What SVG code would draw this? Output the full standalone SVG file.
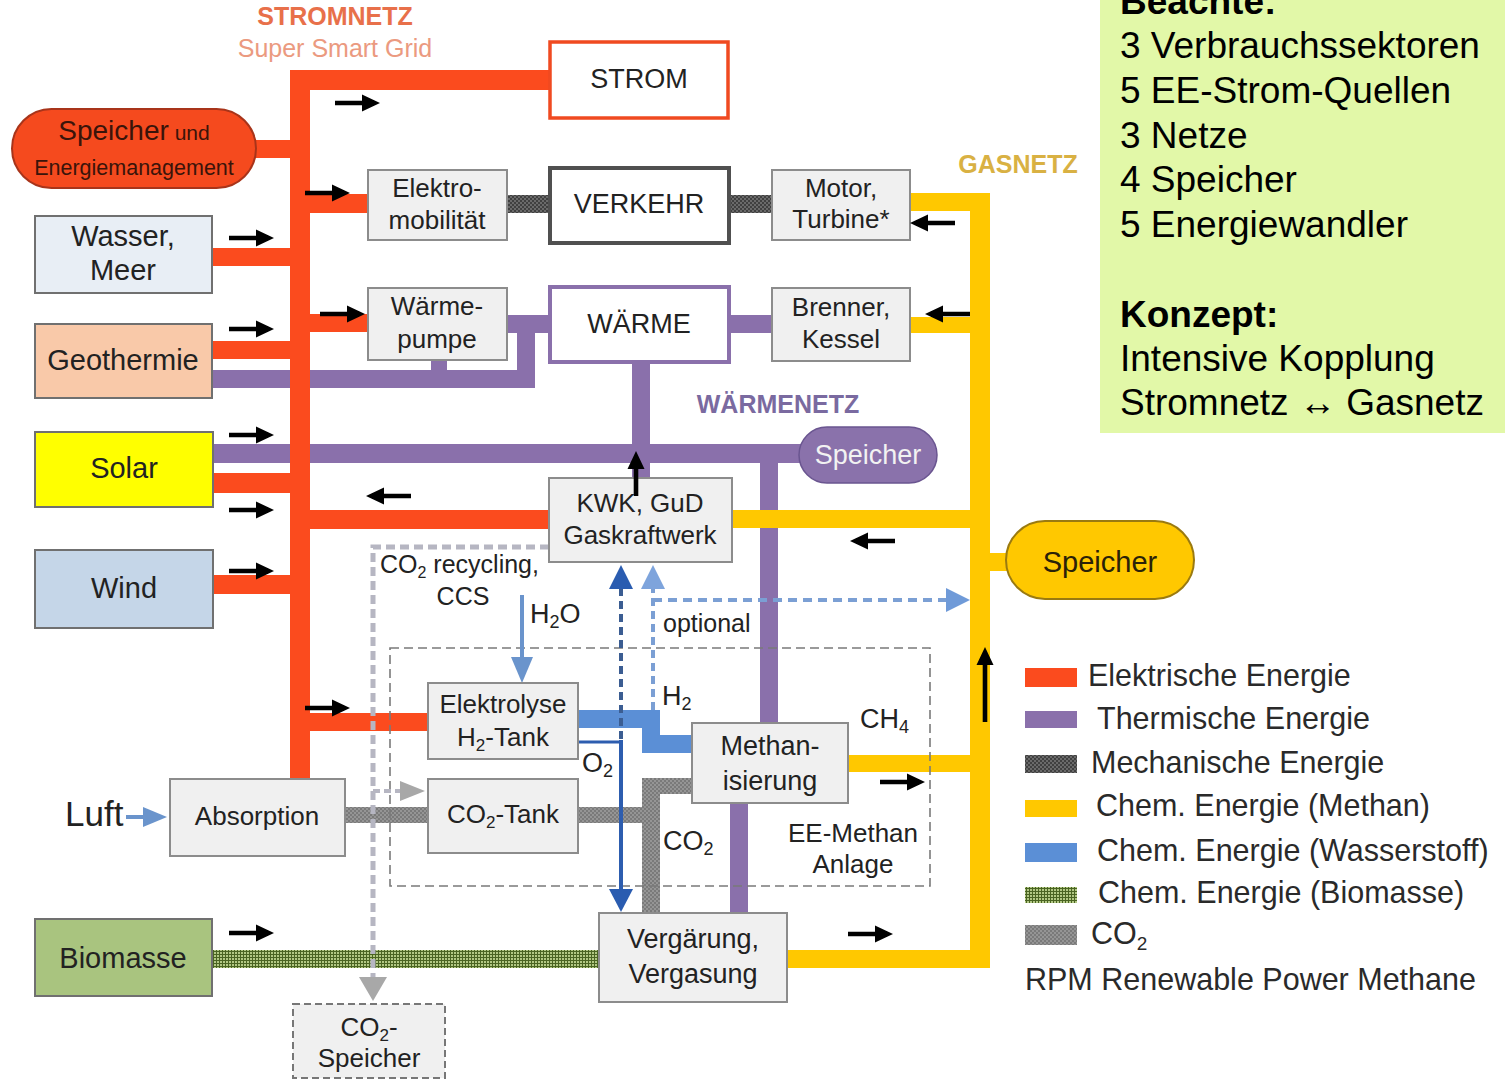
<svg xmlns="http://www.w3.org/2000/svg" width="1505" height="1081" viewBox="0 0 1505 1081">
<defs>
<pattern id="pMech" width="4" height="4" patternUnits="userSpaceOnUse"><rect width="4" height="4" fill="#6a6a6a"/><rect width="2" height="2" fill="#404040"/><rect x="2" y="2" width="2" height="2" fill="#404040"/></pattern>
<pattern id="pCO2" width="4" height="4" patternUnits="userSpaceOnUse"><rect width="4" height="4" fill="#959595"/><rect width="2" height="2" fill="#7a7a7a"/><rect x="2" y="2" width="2" height="2" fill="#7a7a7a"/></pattern>
<pattern id="pBio" width="3" height="3" patternUnits="userSpaceOnUse"><rect width="3" height="3" fill="#b2c884"/><rect width="3" height="1" fill="#4a6422"/><rect width="1" height="3" fill="#4a6422"/></pattern>
<path id="ar" d="M0,-2.3 H27 V-8.5 L45,0 L27,8.5 V2.3 H0 Z" fill="#000"/>
<path id="arLong" d="M0,-2.3 H57 V-8.5 L75,0 L57,8.5 V2.3 H0 Z" fill="#000"/>
</defs>
<style>
text{font-family:"Liberation Sans",Arial,sans-serif;fill:#222;}
.box{fill:#f0f0f0;stroke:#8c8c8c;stroke-width:2;}
.src{stroke:#707070;stroke-width:2;}
.c{text-anchor:middle;}
.f26{font-size:26px;}
.f27{font-size:27px;}
.f29{font-size:29px;}
.f25{font-size:25px;}
.lg{font-size:30.5px;fill:#2a2a2a;}
.nt{font-size:37px;fill:#000;}
.red{fill:#fb4b1e;}
.pur{fill:#8a70ab;}
.yel{fill:#ffc800;}
.h2{fill:#5b8fd6;}
.mech{fill:url(#pMech);}
.co2{fill:url(#pCO2);}
.bio{fill:url(#pBio);}
</style>
<rect width="1505" height="1081" fill="#fff"/>

<!-- Notes box -->
<g id="notes">
<rect x="1100" y="0" width="405" height="433" fill="#e2f8a8"/>
<text class="nt" x="1120" y="14" font-weight="bold">Beachte:</text>
<text class="nt" x="1120" y="58">3 Verbrauchssektoren</text>
<text class="nt" x="1120" y="103">5 EE-Strom-Quellen</text>
<text class="nt" x="1120" y="148">3 Netze</text>
<text class="nt" x="1120" y="192">4 Speicher</text>
<text class="nt" x="1120" y="237">5 Energiewandler</text>
<text class="nt" x="1120" y="327" font-weight="bold">Konzept:</text>
<text class="nt" x="1120" y="371">Intensive Kopplung</text>
<text class="nt" x="1120" y="415">Stromnetz ↔ Gasnetz</text>
</g>

<!-- Network labels -->
<g id="labels">
<text x="335" y="25" class="c" font-size="25" font-weight="bold" style="fill:#e8704a">STROMNETZ</text>
<text x="335" y="57" class="c" font-size="25" style="fill:#eb9a80">Super Smart Grid</text>
<text x="1018" y="173" class="c" font-size="25" font-weight="bold" style="fill:#d9b143">GASNETZ</text>
<text x="778" y="413" class="c" font-size="25" font-weight="bold" style="fill:#7a6aa0">WÄRMENETZ</text>
</g>

<g id="connectors">
<!-- purple (heat) -->
<rect class="pur" x="212" y="370" width="323" height="18"/>
<rect class="pur" x="517" y="315" width="18" height="73"/>
<rect class="pur" x="507" y="315" width="43" height="18"/>
<rect class="pur" x="431" y="360" width="16" height="12"/>
<rect class="pur" x="729" y="315" width="43" height="18"/>
<rect class="pur" x="632" y="363" width="18" height="115"/>
<rect class="pur" x="213" y="444" width="590" height="19"/>
<rect class="pur" x="760" y="463" width="18" height="260"/>
<rect class="pur" x="730" y="803" width="18" height="110"/>
<!-- red (electric) -->
<rect class="red" x="290" y="70" width="20" height="708"/>
<rect class="red" x="290" y="70" width="260" height="20"/>
<rect class="red" x="254" y="140" width="36" height="18"/>
<rect class="red" x="212" y="248" width="78" height="18"/>
<rect class="red" x="310" y="194" width="58" height="19"/>
<rect class="red" x="212" y="341" width="78" height="18"/>
<rect class="red" x="310" y="314" width="58" height="18"/>
<rect class="red" x="213" y="473" width="77" height="20"/>
<rect class="red" x="310" y="510" width="239" height="19"/>
<rect class="red" x="213" y="575" width="77" height="19"/>
<rect class="red" x="310" y="713" width="118" height="18"/>
<!-- mechanical -->
<rect class="mech" x="507" y="195" width="43" height="18"/>
<rect class="mech" x="729" y="195" width="43" height="18"/>
<!-- yellow (methane) -->
<rect class="yel" x="970" y="193" width="20" height="775"/>
<rect class="yel" x="910" y="193" width="80" height="18"/>
<rect class="yel" x="910" y="317" width="60" height="16"/>
<rect class="yel" x="732" y="510" width="238" height="18"/>
<rect class="yel" x="990" y="553" width="18" height="18"/>
<rect class="yel" x="848" y="755" width="122" height="17"/>
<rect class="yel" x="787" y="950" width="203" height="18"/>
<!-- hydrogen -->
<rect class="h2" x="579" y="710" width="81" height="18"/>
<rect class="h2" x="642" y="710" width="18" height="43"/>
<rect class="h2" x="642" y="735" width="50" height="18"/>
<!-- CO2 -->
<rect class="co2" x="345" y="807" width="83" height="16"/>
<rect class="co2" x="579" y="807" width="64" height="16"/>
<rect class="co2" x="642" y="778" width="18" height="135"/>
<rect class="co2" x="642" y="778" width="50" height="16"/>
<!-- biomass -->
<rect class="bio" x="212" y="950" width="388" height="18"/>

<!-- EE-Methan Anlage dashed frame -->
<rect x="390" y="648" width="540" height="238" fill="none" stroke="#7a7a7a" stroke-width="1.6" stroke-dasharray="9 5"/>
<!-- CO2 recycling dashed -->
<path d="M549,547 H373 V980" fill="none" stroke="#b6b6c2" stroke-width="5" stroke-dasharray="9 5"/>
<path d="M373,791 H402" fill="none" stroke="#b6b6c2" stroke-width="4" stroke-dasharray="7 4"/>
<polygon points="400,781 425,791 400,801" fill="#a8a8a8"/>
<polygon points="359,977 387,977 373,1001" fill="#a8a8a8"/>

<!-- H2O arrow -->
<line x1="522" y1="595" x2="522" y2="660" stroke="#6a94cc" stroke-width="4"/>
<polygon points="511,657 533,657 522,683" fill="#6a94cc"/>
<!-- O2 line -->
<line x1="579" y1="742" x2="622" y2="742" stroke="#2d5daf" stroke-width="3"/>
<!-- dark blue double arrow -->
<line x1="621" y1="588" x2="621" y2="742" stroke="#3b5d92" stroke-width="4" stroke-dasharray="8 5"/>
<line x1="621" y1="740" x2="621" y2="892" stroke="#2d5daf" stroke-width="4"/>
<polygon points="609,589 633,589 621,565" fill="#2a5cb0"/>
<polygon points="609,889 633,889 621,912" fill="#2a5cb0"/>
<!-- light blue dashed optional -->
<line x1="653" y1="710" x2="653" y2="588" stroke="#7b9fd4" stroke-width="4" stroke-dasharray="8 5"/>
<polygon points="641,589 665,589 653,565" fill="#7ea4dc"/>
<line x1="653" y1="600" x2="948" y2="600" stroke="#7b9fd4" stroke-width="4" stroke-dasharray="9 6"/>
<polygon points="946,588 970,600 946,612" fill="#6f9ad8"/>
<!-- Luft arrow -->
<line x1="126" y1="817" x2="146" y2="817" stroke="#6a94cc" stroke-width="4"/>
<polygon points="143,807 167,817 143,827" fill="#6a94cc"/>
</g>

<!-- Nodes -->
<g id="strom"><rect x="550" y="42" width="178" height="76" fill="#fff" stroke="#f04a20" stroke-width="3.5"/><text class="c f27" x="639" y="88">STROM</text></g>
<g id="speicher-em"><rect x="12" y="109" width="244" height="79" rx="39.5" fill="#f54a1e" stroke="#a8341a" stroke-width="2"/><text class="c" x="134" y="140" style="fill:#3a140a"><tspan font-size="28">Speicher</tspan><tspan font-size="21"> und</tspan></text><text class="c" x="134" y="175" font-size="21.5" style="fill:#3a140a">Energiemanagement</text></g>
<g id="wasser"><rect class="src" x="35" y="216" width="177" height="77" fill="#e8eef5"/><text class="c f29" x="123" y="246">Wasser,</text><text class="c f29" x="123" y="280">Meer</text></g>
<g id="geothermie"><rect class="src" x="35" y="324" width="177" height="74" fill="#f9c9a9"/><text class="c f29" x="123" y="370">Geothermie</text></g>
<g id="solar"><rect class="src" x="35" y="432" width="178" height="75" fill="#ffff00"/><text class="c f29" x="124" y="478">Solar</text></g>
<g id="wind"><rect class="src" x="35" y="550" width="178" height="78" fill="#c5d6e8"/><text class="c f29" x="124" y="598">Wind</text></g>
<g id="biomasse"><rect class="src" x="35" y="919" width="177" height="77" fill="#a9c47f"/><text class="c f29" x="123" y="968">Biomasse</text></g>

<g id="elektromobilitaet"><rect class="box" x="368" y="170" width="139" height="70"/><text class="c f26" x="437" y="197">Elektro-</text><text class="c f26" x="437" y="229">mobilität</text></g>
<g id="verkehr"><rect x="550" y="168" width="179" height="75" fill="#fff" stroke="#505050" stroke-width="4"/><text class="c f27" x="639" y="213">VERKEHR</text></g>
<g id="motor"><rect class="box" x="772" y="170" width="138" height="70"/><text class="c f26" x="841" y="197">Motor,</text><text class="c f26" x="841" y="228">Turbine*</text></g>
<g id="waermepumpe"><rect class="box" x="368" y="288" width="139" height="72"/><text class="c f26" x="437" y="315">Wärme-</text><text class="c f26" x="437" y="348">pumpe</text></g>
<g id="waerme"><rect x="550" y="287" width="179" height="75" fill="#fff" stroke="#8a70ab" stroke-width="4"/><text class="c f27" x="639" y="333">WÄRME</text></g>
<g id="brenner"><rect class="box" x="772" y="288" width="138" height="73"/><text class="c f26" x="841" y="316">Brenner,</text><text class="c f26" x="841" y="348">Kessel</text></g>
<g id="speicher-waerme"><rect x="799" y="427" width="138" height="56" rx="28" fill="#8a72ab" stroke="#6a5590" stroke-width="1.5"/><text class="c f27" x="868" y="464" style="fill:#f2f2f2">Speicher</text></g>
<g id="kwk"><rect class="box" x="549" y="478" width="183" height="84"/><text class="c f26" x="640" y="512">KWK, GuD</text><text class="c f26" x="640" y="544">Gaskraftwerk</text></g>
<g id="speicher-gas"><rect x="1006" y="521" width="188" height="78" rx="39" fill="#ffc800" stroke="#9a7a10" stroke-width="2"/><text class="c f29" x="1100" y="572" style="fill:#2a2208">Speicher</text></g>
<g id="elektrolyse"><rect class="box" x="428" y="683" width="150" height="76"/><text class="c f26" x="503" y="713">Elektrolyse</text><text class="c f26" x="503" y="746">H<tspan font-size="17" dy="5">2</tspan><tspan dy="-5">-Tank</tspan></text></g>
<g id="co2tank"><rect class="box" x="428" y="779" width="150" height="74"/><text class="c f26" x="503" y="823">CO<tspan font-size="17" dy="5">2</tspan><tspan dy="-5">-Tank</tspan></text></g>
<g id="absorption"><rect class="box" x="170" y="779" width="175" height="77"/><text class="c f26" x="257" y="825">Absorption</text></g>
<g id="methanisierung"><rect class="box" x="692" y="723" width="156" height="80"/><text class="c f27" x="770" y="755">Methan-</text><text class="c f27" x="770" y="790">isierung</text></g>
<g id="vergaerung"><rect class="box" x="599" y="913" width="188" height="89"/><text class="c f27" x="693" y="948">Vergärung,</text><text class="c f27" x="693" y="983">Vergasung</text></g>
<g id="co2speicher"><rect x="293" y="1004" width="152" height="74" fill="#f0f0f0" stroke="#777" stroke-width="2" stroke-dasharray="7 4"/><text class="c f26" x="369" y="1036">CO<tspan font-size="17" dy="5">2</tspan><tspan dy="-5">-</tspan></text><text class="c f26" x="369" y="1067">Speicher</text></g>

<!-- free labels -->
<g id="flow-labels">
<text x="65" y="826" font-size="35">Luft</text>
<text x="380" y="573" class="f25">CO<tspan font-size="16" dy="5">2</tspan><tspan dy="-5"> recycling,</tspan></text>
<text x="463" y="605" class="c f25">CCS</text>
<text x="530" y="623" class="f27">H<tspan font-size="18" dy="5">2</tspan><tspan dy="-5">O</tspan></text>
<text x="663" y="632" class="f25">optional</text>
<text x="662" y="705" class="f27">H<tspan font-size="18" dy="5">2</tspan></text>
<text x="860" y="728" class="f27">CH<tspan font-size="18" dy="5">4</tspan></text>
<text x="582" y="772" class="f27">O<tspan font-size="18" dy="5">2</tspan></text>
<text x="663" y="850" class="f27">CO<tspan font-size="18" dy="5">2</tspan></text>
<text x="853" y="842" class="c f26">EE-Methan</text>
<text x="853" y="873" class="c f26">Anlage</text>
</g>

<!-- black direction arrows -->
<g id="arrows">
<use href="#ar" transform="translate(335,103)"/>
<use href="#ar" transform="translate(305,193)"/>
<use href="#ar" transform="translate(229,238)"/>
<use href="#ar" transform="translate(229,329)"/>
<use href="#ar" transform="translate(320,314)"/>
<use href="#ar" transform="translate(229,435)"/>
<use href="#ar" transform="translate(229,510)"/>
<use href="#ar" transform="translate(229,571)"/>
<use href="#ar" transform="translate(411,496) rotate(180)"/>
<use href="#ar" transform="translate(955,223) rotate(180)"/>
<use href="#ar" transform="translate(970,314) rotate(180)"/>
<use href="#ar" transform="translate(895,541) rotate(180)"/>
<use href="#ar" transform="translate(880,782)"/>
<use href="#arLong" transform="translate(985,722) rotate(-90)"/>
<use href="#ar" transform="translate(636,496) rotate(-90)"/>
<use href="#ar" transform="translate(305,708)"/>
<use href="#ar" transform="translate(229,933)"/>
<use href="#ar" transform="translate(848,934)"/>
</g>

<!-- legend -->
<g id="legend">
<rect class="red" x="1025" y="668" width="52" height="19"/>
<rect class="pur" x="1025" y="711" width="52" height="17"/>
<rect class="mech" x="1025" y="755" width="52" height="18"/>
<rect class="yel" x="1025" y="800" width="52" height="17"/>
<rect class="h2" x="1025" y="843" width="52" height="19"/>
<rect class="bio" x="1025" y="887" width="52" height="16"/>
<rect class="co2" x="1025" y="925" width="52" height="20"/>
<text class="lg" x="1088" y="686">Elektrische Energie</text>
<text class="lg" x="1097" y="729">Thermische Energie</text>
<text class="lg" x="1091" y="773">Mechanische Energie</text>
<text class="lg" x="1096" y="816">Chem. Energie (Methan)</text>
<text class="lg" x="1097" y="861">Chem. Energie (Wasserstoff)</text>
<text class="lg" x="1098" y="903">Chem. Energie (Biomasse)</text>
<text class="lg" x="1091" y="944">CO<tspan font-size="19" dy="6">2</tspan></text>
<text class="lg" x="1025" y="990">RPM Renewable Power Methane</text>
</g>
</svg>
